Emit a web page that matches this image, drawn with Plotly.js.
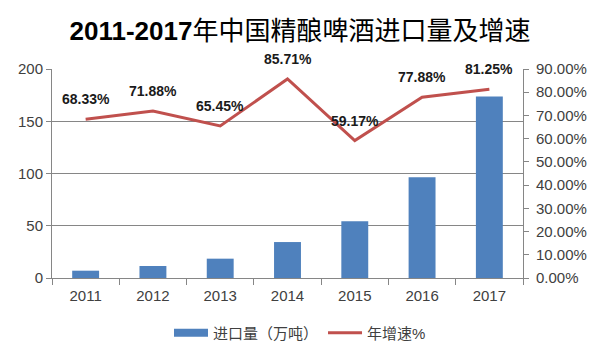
<!DOCTYPE html>
<html>
<head>
<meta charset="utf-8">
<script src="https://cdn.plot.ly/plotly-3.0.1.min.js"></script>
<style>
  html, body { margin: 0; padding: 0; background: #fff; }
  #chart { width: 600px; height: 360px; outline: 2px solid #8c8c8c; outline-offset: -2px; }
</style>
</head>
<body>
<div id="chart"></div>
<script>
const years = ['2011', '2012', '2013', '2014', '2015', '2016', '2017'];
const importVolume = [7, 11.5, 18.5, 34.4, 54.2, 96.3, 173.8];
const growthRate = [0.6833, 0.7188, 0.6545, 0.8571, 0.5917, 0.7788, 0.8125];
const growthLabels = ['68.33%', '71.88%', '65.45%', '85.71%', '59.17%', '77.88%', '81.25%'];
const barName = '进口量（万吨）';
const lineName = '年增速%';
const titleText = '<b>2011-2017</b>年中国精酿啤酒进口量及增速';

const fontFam = 'Liberation Sans, Noto Sans CJK SC, sans-serif';
const barColor = '#4f81bd';

const traces = [
  {
    type: 'bar', x: years, y: importVolume, name: barName, showlegend: false,
    marker: { color: barColor }, width: 0.4, yaxis: 'y'
  },
  // legend key for the bars, drawn as a wide rectangle like the reference
  {
    type: 'scatter', mode: 'lines', x: [null], y: [null], name: barName,
    line: { color: barColor, width: 8 }, hoverinfo: 'skip'
  },
  {
    type: 'scatter', mode: 'lines', x: years, y: growthRate, name: lineName,
    line: { color: '#c0504d', width: 3 }, yaxis: 'y2'
  }
];

// category axis: annotation x given as the category index
const annotations = years.map((yr, i) => ({
  x: i, y: growthRate[i], xref: 'x', yref: 'y2',
  text: '<b>' + growthLabels[i] + '</b>', showarrow: false, yshift: 20,
  font: { family: fontFam, size: 14, color: '#1a1a1a' }
}));

const layout = {
  width: 600, height: 360,
  margin: { l: 52, r: 77, t: 69, b: 82 },
  paper_bgcolor: '#fff', plot_bgcolor: '#fff',
  font: { family: fontFam, size: 14, color: '#404040' },
  title: { text: titleText, x: 0.5, xanchor: 'center', y: 0.915, yanchor: 'middle',
           font: { family: fontFam, size: 26, color: '#000' } },
  xaxis: {
    type: 'category', range: [-0.5, 6.5], autorange: false,
    showgrid: false, showline: true, linecolor: '#868686', linewidth: 1,
    ticks: 'outside', tickson: 'boundaries', ticklen: 6, tickcolor: '#868686',
    tickfont: { size: 15, color: '#404040' }, ticklabelstandoff: 4
  },
  yaxis: {
    range: [0, 200], dtick: 50, showgrid: true, gridcolor: '#868686', gridwidth: 1,
    showline: true, linecolor: '#868686', ticks: 'outside', ticklen: 5, tickcolor: '#868686',
    zeroline: false, tickfont: { size: 15, color: '#404040' }
  },
  yaxis2: {
    overlaying: 'y', side: 'right', range: [0, 0.9], dtick: 0.1, tickformat: '.2%',
    showgrid: false, showline: true, linecolor: '#868686', ticks: 'outside', ticklen: 5,
    tickcolor: '#868686', zeroline: false, tickfont: { size: 15, color: '#404040' },
    ticklabelstandoff: 4
  },
  legend: {
    orientation: 'h', x: 0.5, xanchor: 'center', xref: 'container',
    y: 0.075, yanchor: 'middle', yref: 'container',
    font: { size: 15, color: '#404040' }, itemwidth: 34
  },
  annotations: annotations,
  showlegend: true
};

Plotly.newPlot('chart', traces, layout, { displayModeBar: false, staticPlot: true });
</script>
</body>
</html>
